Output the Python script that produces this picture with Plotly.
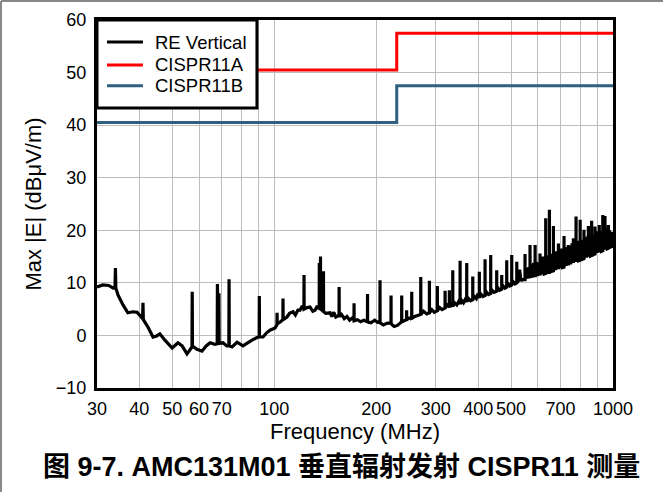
import numpy as np
import plotly.graph_objects as go

# RE vertical scan, 30 MHz - 146 MHz
freq_low = [
    30, 31.2, 32.5, 33.5, 33.9, 34.0, 34.1, 34.6, 35.8, 37.0,
    38.3, 39.4, 40.5, 40.9, 41.0, 41.1, 42.4, 43.9, 45.0, 46.0,
    47.6, 50.0, 52.0, 53.5, 55.3, 57.2, 57.3, 57.4, 59.0, 61.2,
    63.0, 64.7, 66.9, 67.9, 68.0, 68.3, 68.6, 68.7, 68.8, 70.6,
    72.5, 73.5, 73.6, 73.7, 75.1, 77.7, 80.9, 83.5, 86.0, 89.0,
    90.3, 90.4, 90.5, 92.7, 95.0, 97.2, 100.6, 101.9, 102.0, 102.1,
    104.0, 106.1, 106.2, 106.3, 109.1, 111.0, 113.7, 115.5, 117.5, 119.2,
    121.0, 122.4, 122.5, 122.6, 125.0, 127.6, 130.0, 132.0, 134.0, 135.8,
    135.9, 136.0, 136.9, 137.0, 137.1, 139.7, 139.8, 139.9, 142.0, 144.2,
]
level_low = [
    9.2, 9.6, 9.5, 9.0, 9.0, 12.8, 9.0, 7.7, 5.8, 4.3,
    4.5, 4.4, 3.5, 3.2, 6.2, 3.0, 1.6, -0.3, -0.1, 0.3,
    -0.9, -2.4, -1.4, -2.0, -3.5, -2.2, 8.3, -2.0, -2.6, -3.0,
    -2.0, -1.4, -1.7, -1.6, 9.8, -1.5, -1.4, 8.0, -1.5, -1.4,
    -2.0, -2.0, 10.7, -2.0, -2.2, -1.3, -2.0, -1.4, -0.9, -0.4,
    -0.3, 7.5, -0.3, -0.3, 0.5, 1.0, 1.4, 2.0, 4.3, 2.2,
    2.5, 3.0, 7.0, 3.0, 3.5, 4.2, 4.5, 3.9, 4.8, 4.8,
    5.6, 5.0, 11.5, 5.0, 5.3, 5.4, 4.6, 4.8, 5.6, 5.0,
    13.8, 5.0, 5.2, 15.0, 5.0, 4.6, 12.2, 4.5, 4.2, 4.3,
]

# 146 MHz - 520 MHz
freq_mid = [
    146.2, 148.0, 150.0, 152.0, 155.4, 155.5, 155.6, 158.0, 161.0, 164.0,
    167.0, 170.0, 172.0, 172.1, 172.2, 176.0, 180.0, 184.0, 188.5, 188.6,
    188.7, 193.0, 198.0, 202.0, 205.2, 205.3, 205.4, 210.0, 215.0, 221.2,
    221.3, 221.4, 226.0, 231.0, 234.0, 237.8, 237.9, 238.0, 242.0, 245.9,
    246.0, 246.1, 250.0, 254.6, 254.7, 254.8, 260.0, 265.0, 270.7, 270.8,
    271.0, 276.0, 282.0, 287.1, 287.2, 287.3, 292.0, 297.0, 303.0, 303.1,
    303.2, 308.0, 313.0, 319.4, 319.5, 319.6, 324.0, 328.8, 328.9, 329.0,
    333.0, 336.5, 336.6, 336.7, 341.0, 346.0, 350.0, 353.7, 353.8, 353.9,
    358.0, 362.0, 366.0, 370.0, 370.1, 370.2, 375.0, 380.0, 385.5, 385.6,
    385.7, 390.0, 395.0, 398.0, 403.1, 403.2, 403.3, 408.0, 413.0, 419.1,
    419.2, 419.3, 424.0, 429.0, 435.5, 435.6, 435.7, 440.0, 446.0, 453.6,
    453.7, 453.8, 458.0, 463.0, 469.4, 469.5, 469.6, 474.0, 480.0, 485.6,
    485.7, 485.8, 491.0, 496.0, 502.4, 502.5, 502.6, 508.0, 514.0, 519.9,
]
level_mid = [
    4.3, 3.6, 4.4, 3.5, 3.8, 9.2, 3.6, 4.0, 3.2, 3.6,
    2.9, 3.3, 2.9, 6.1, 2.8, 3.0, 2.6, 2.9, 2.6, 7.9,
    2.6, 2.4, 2.9, 2.5, 2.7, 10.5, 2.4, 2.0, 2.3, 2.4,
    7.6, 2.2, 1.7, 1.9, 2.2, 2.6, 7.6, 2.6, 2.8, 3.0,
    4.8, 3.0, 3.3, 3.3, 8.3, 3.3, 3.6, 3.8, 4.0, 11.1,
    4.0, 4.6, 4.1, 4.3, 10.4, 4.3, 4.9, 4.4, 4.7, 9.4,
    4.7, 5.3, 4.9, 5.2, 8.5, 5.2, 5.8, 5.4, 8.6, 5.4,
    5.9, 5.5, 12.4, 5.5, 6.2, 5.8, 6.4, 6.0, 14.2, 6.0,
    6.6, 6.2, 6.8, 6.4, 13.8, 6.4, 7.0, 6.6, 6.8, 11.2,
    6.8, 7.4, 7.0, 7.6, 7.2, 12.1, 7.2, 7.8, 7.4, 7.6,
    14.5, 7.6, 8.2, 7.8, 8.0, 15.3, 8.0, 8.6, 8.2, 8.4,
    12.4, 8.4, 9.0, 8.6, 8.8, 11.5, 8.8, 9.4, 9.0, 9.2,
    14.3, 9.2, 9.8, 9.4, 9.6, 15.3, 9.6, 10.2, 9.8, 10.0,
]

# 520 MHz - 1 GHz (dense harmonics)
freq_high = [
    520.0, 520.1, 525.0, 530.0, 535.0, 540.0, 549.9, 550.0, 550.1, 556.0,
    560.0, 564.0, 568.9, 569.0, 569.1, 574.0, 578.0, 583.0, 588.9, 589.0,
    589.1, 594.0, 598.0, 603.0, 608.9, 609.0, 609.1, 614.0, 618.0, 622.0,
    627.0, 632.9, 633.0, 633.1, 638.0, 643.0, 648.9, 649.0, 649.1, 654.0,
    659.0, 666.9, 667.0, 667.1, 672.0, 677.0, 682.0, 689.9, 690.0, 690.1,
    695.0, 700.0, 705.0, 710.0, 716.9, 717.0, 717.1, 722.0, 727.0, 732.0,
    737.9, 738.0, 738.1, 744.0, 750.0, 757.0, 763.9, 764.0, 764.1, 770.0,
    777.9, 778.0, 778.1, 785.0, 792.0, 799.9, 800.0, 800.1, 806.0, 813.0,
    820.9, 821.0, 821.1, 828.0, 835.0, 840.0, 845.9, 846.0, 846.1, 852.0,
    858.0, 864.9, 865.0, 865.1, 872.0, 878.0, 884.9, 885.0, 885.1, 892.0,
    898.0, 904.0, 910.9, 911.0, 911.1, 918.0, 925.0, 932.9, 933.0, 933.1,
    940.0, 946.9, 947.0, 947.1, 955.0, 962.0, 968.9, 969.0, 969.1, 976.0,
    983.0, 990.9, 991.0, 991.1, 996.0, 1000.0,
]
level_high = [
    14.0, 10.0, 10.3, 12.5, 10.4, 10.6, 10.6, 15.5, 10.6, 12.8,
    10.8, 13.0, 10.9, 17.2, 10.9, 13.5, 11.0, 13.8, 11.1, 17.2,
    11.1, 14.0, 11.3, 13.8, 11.4, 15.6, 11.4, 14.5, 11.6, 15.0,
    11.7, 11.8, 22.3, 11.8, 15.2, 12.0, 12.0, 23.9, 12.0, 15.5,
    12.2, 12.3, 20.8, 12.3, 15.8, 12.4, 16.0, 12.6, 17.5, 12.6,
    16.2, 12.8, 16.5, 12.9, 13.0, 18.9, 13.0, 16.6, 13.2, 16.8,
    13.3, 17.2, 13.3, 17.0, 13.5, 17.5, 13.8, 18.5, 13.8, 17.5,
    14.0, 22.6, 14.0, 18.0, 14.2, 14.3, 22.0, 14.3, 18.2, 14.5,
    14.6, 20.1, 14.6, 18.5, 14.8, 18.8, 15.0, 20.8, 15.0, 19.0,
    15.1, 15.2, 21.8, 15.2, 19.2, 15.4, 15.5, 20.7, 15.5, 19.5,
    15.7, 19.8, 15.8, 21.0, 15.8, 19.8, 16.0, 16.1, 22.9, 16.1,
    20.5, 16.3, 22.7, 16.3, 20.5, 16.5, 16.6, 21.0, 16.6, 20.0,
    16.8, 16.9, 19.7, 16.9, 18.5, 17.2,
]

# CISPR 11 limits (step at 230 MHz)
limit_freq = [30, 230, 1000]
cispr11a = [50.5, 57.5, 57.5]
cispr11b = [40.5, 47.5, 47.5]

series_names = ['RE Vertical', 'CISPR11A', 'CISPR11B']
series_colors = ['black', '#ff0000', '#2f6080']

x_tickvals = [30, 40, 50, 60, 70, 80, 90, 100, 200, 300, 400, 500, 600, 700, 800, 900, 1000]
x_ticktext = ['30', '40', '50', '60', '70', '', '', '100', '200', '300', '400', '500', '', '700', '', '', '1000']
y_tickvals = [-10, 0, 10, 20, 30, 40, 50, 60]

freq = freq_low + freq_mid + freq_high
level = level_low + level_mid + level_high

fig = go.Figure()
fig.add_trace(go.Scatter(x=freq, y=level, mode='lines', name=series_names[0],
                         line=dict(color=series_colors[0], width=3.2)))
fig.add_trace(go.Scatter(x=limit_freq, y=cispr11a, mode='lines', name=series_names[1],
                         line=dict(color=series_colors[1], width=3, shape='hv')))
fig.add_trace(go.Scatter(x=limit_freq, y=cispr11b, mode='lines', name=series_names[2],
                         line=dict(color=series_colors[2], width=3, shape='hv')))

axis_style = dict(showgrid=True, gridcolor='#bdbdbd', gridwidth=1, showline=True,
                  linecolor='black', linewidth=3, mirror=True, ticks='', zeroline=False,
                  automargin=False)

fig.update_xaxes(type='log', range=[np.log10(30), np.log10(1000)],
                 tickvals=x_tickvals, ticktext=x_ticktext, ticklabelstandoff=2,
                 title=dict(text='Frequency (MHz)', standoff=4), **axis_style)
fig.update_yaxes(range=[-10, 60], tickvals=y_tickvals, ticklabelstandoff=4,
                 title=dict(text='Max |E| (dBμV/m)', standoff=9), **axis_style)

fig.update_layout(
    width=663, height=492,
    margin=dict(l=97, r=50, t=20, b=104),
    paper_bgcolor='white', plot_bgcolor='white',
    font=dict(family='Liberation Sans, Arial, sans-serif', size=18, color='black'),
    showlegend=False,
)

# legend box drawn by hand to get the tight row spacing of the original
fig.add_shape(type='rect', xref='paper', yref='paper', x0=0, x1=0.31, y0=0.761, y1=1,
              fillcolor='white', line=dict(color='black', width=3), layer='above')
legend_rows = [0.940, 0.878, 0.821]
for name, color, yrow in zip(series_names, series_colors, legend_rows):
    fig.add_shape(type='line', xref='paper', yref='paper', x0=0.0194, x1=0.0891,
                  y0=yrow, y1=yrow, line=dict(color=color, width=3), layer='above')
    fig.add_annotation(text=name, xref='paper', yref='paper', x=0.1085, y=yrow,
                       xanchor='left', yanchor='middle', showarrow=False,
                       font=dict(size=18.5))

# figure caption
fig.add_annotation(text='<b>图 9-7. AMC131M01 垂直辐射发射 CISPR11 测量</b>',
                   xref='paper', yref='paper', x=0.473, y=-0.214,
                   xanchor='center', yanchor='middle', showarrow=False,
                   font=dict(family='Liberation Sans, Noto Sans CJK SC, sans-serif', size=27))

# thin grey frame on the top and left edges of the image
fig.add_shape(type='line', xref='paper', yref='paper', x0=-0.186, x1=1.097, y0=1.0516, y1=1.0516,
              line=dict(color='#888888', width=2))
fig.add_shape(type='line', xref='paper', yref='paper', x0=-0.186, x1=-0.186, y0=-0.283, y1=1.0516,
              line=dict(color='#888888', width=2))

fig.write_html("out.html", config={'displayModeBar': False},
               post_script="document.body.style.margin = '0';")
